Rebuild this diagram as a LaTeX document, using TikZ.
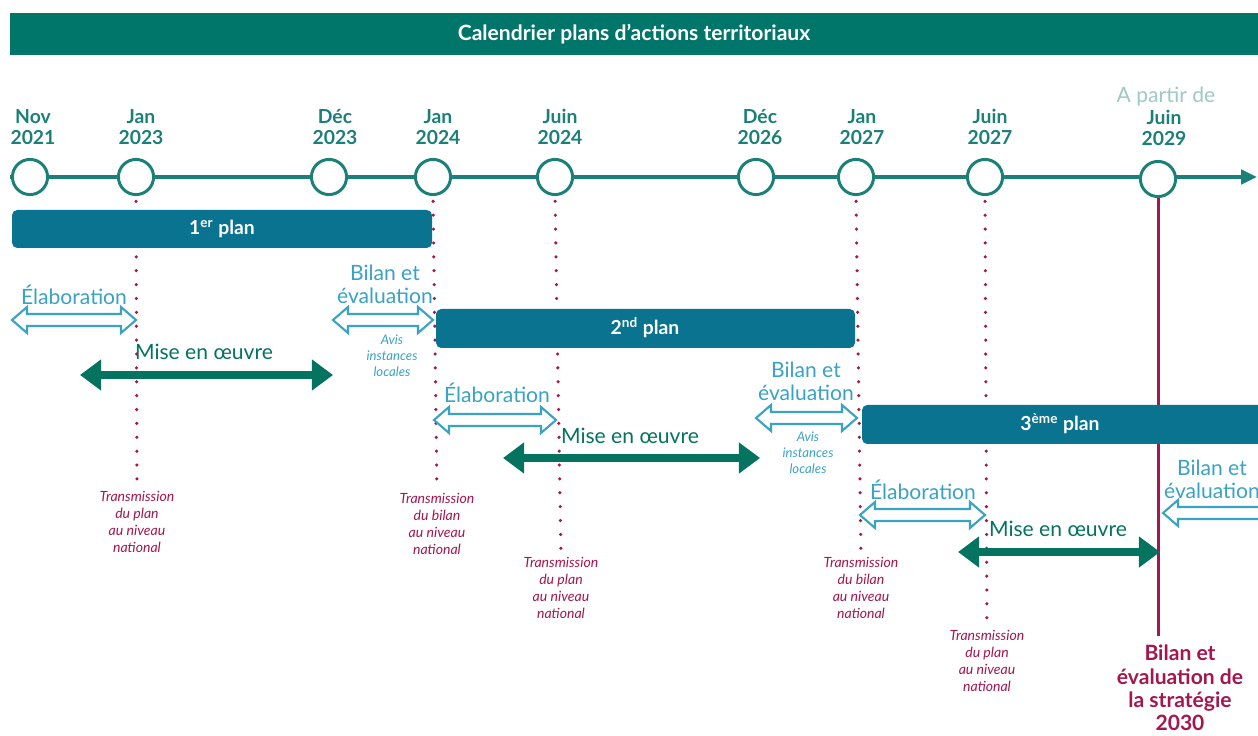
\documentclass[tikz,border=0pt]{standalone}
\usepackage{fontspec}
\setmainfont{Lato}
\usepackage{xcolor}
\usetikzlibrary{arrows.meta, positioning}

\definecolor{hdgreen}{HTML}{00766A}
\definecolor{linegreen}{HTML}{1B8077}
\definecolor{plancol}{HTML}{0A7390}
\definecolor{lightblue}{HTML}{3AA2C2}
\definecolor{darkgreen}{HTML}{04735F}
\definecolor{crimson}{HTML}{A3174E}
\definecolor{paletext}{HTML}{9CC9C4}

% hollow double arrow: x start, x end, y
\newcommand{\hollowarrow}[3]{%
  \draw[hollow] (#1,#3) -- (#1+15,#3-13) -- (#1+15,#3-6) -- (#2-15,#3-6) -- (#2-15,#3-13)
    -- (#2,#3) -- (#2-15,#3+13) -- (#2-15,#3+6) -- (#1+15,#3+6) -- (#1+15,#3+13) -- cycle;}

\begin{document}
\begin{tikzpicture}[x=0.02cm, y=-0.02cm,
    date/.style={circle, draw=linegreen, line width=1.7pt, fill=white, minimum size=20pt, inner sep=0pt},
    datelbl/.style={align=center, font=\bfseries\fontsize{11}{12}\selectfont, text=linegreen, inner sep=0pt},
    planbar/.style={fill=plancol, rounded corners=3pt},
    plantxt/.style={text=white, font=\bfseries\fontsize{11}{13}\selectfont},
    phase/.style={text=lightblue, align=center, font=\fontsize{12}{13}\selectfont, inner sep=0pt},
    mise/.style={text=darkgreen, font=\fontsize{12}{13}\selectfont, inner sep=0pt},
    avis/.style={text=lightblue, align=center, font=\itshape\fontsize{7.5}{9}\selectfont, inner sep=0pt},
    transm/.style={text=crimson, align=center, font=\itshape\fontsize{8}{9.6}\selectfont, inner sep=0pt},
    dotline/.style={crimson, line width=2pt, line cap=round, dash pattern=on 0pt off 7.9pt},
    hollow/.style={draw=lightblue, line width=1.2pt, fill=white, line join=miter},
    solidarr/.style={darkgreen, line width=5pt, {Triangle[length=12pt,width=17pt]}-{Triangle[length=12pt,width=17pt]}},
  ]
  \useasboundingbox (0,0) rectangle (1258,736);

  % header
  \fill[hdgreen] (10,13) rectangle (1258,55);
  \node[text=white, font=\bfseries\fontsize{12}{14}\selectfont] (title) at (634,34) {Calendrier plans d’actions territoriaux};

  % time line
  \coordinate (tlstart) at (10,177);
  \coordinate (tlend) at (1257,177);
  \draw[linegreen, line width=2.3pt, -{Triangle[length=9pt,width=8pt]}] (tlstart) -- (tlend);

  \node[date] (nov21) at (30,177) {};
  \node[date] (jan23) at (136,177) {};
  \node[date] (dec23) at (329,177) {};
  \node[date] (jan24) at (433,177) {};
  \node[date] (jun24) at (555,177) {};
  \node[date] (dec26) at (756,177) {};
  \node[date] (jan27) at (856,177) {};
  \node[date] (jun27) at (985,177) {};
  \node[date] (jun29) at (1158,179) {};

  \node[datelbl] (nov21l) at (33,127) {Nov\\2021};
  \node[datelbl] (jan23l) at (141,127) {Jan\\2023};
  \node[datelbl] (dec23l) at (335,127) {Déc\\2023};
  \node[datelbl] (jan24l) at (438,127) {Jan\\2024};
  \node[datelbl] (jun24l) at (560,127) {Juin\\2024};
  \node[datelbl] (dec26l) at (760,127) {Déc\\2026};
  \node[datelbl] (jan27l) at (862,127) {Jan\\2027};
  \node[datelbl] (jun27l) at (990,127) {Juin\\2027};
  \node[datelbl] (jun29l) at (1164,128) {Juin\\2029};
  \node[text=paletext, font=\fontsize{12}{13}\selectfont, inner sep=0pt] (apartir) at (1166,97) {A partir de};

  % transmissions
  \node[transm] (tr1) at (137,522) {Transmission\\du plan\\au niveau\\national};
  \node[transm] (tr2) at (437,524) {Transmission\\du bilan\\au niveau\\national};
  \node[transm] (tr3) at (561,588) {Transmission\\du plan\\au niveau\\national};
  \node[transm] (tr4) at (861,588) {Transmission\\du bilan\\au niveau\\national};
  \node[transm] (tr5) at (987,661) {Transmission\\du plan\\au niveau\\national};
  \node[text=crimson, align=center, font=\bfseries\fontsize{12}{13.2}\selectfont, inner sep=0pt] (final) at (1180,688) {Bilan et\\évaluation de\\la stratégie\\2030};

  \draw[dotline, shorten <=3pt, shorten >=4pt] (jan23.south) -- (tr1.north);
  \draw[dotline, shorten <=3pt, shorten >=4pt] (jan24.south) -- (tr2.north);
  \draw[dotline, shorten <=3pt, shorten >=4pt] (jun24.south) -- (tr3.north);
  \draw[dotline, shorten <=3pt, shorten >=4pt] (jan27.south) -- (tr4.north);
  \draw[dotline, shorten <=3pt, shorten >=4pt] (jun27.south) -- (tr5.north);
  \draw[crimson, line width=1.7pt, shorten >=5pt] (jun29.south) -- (jun29.south |- final.north);

  % plans
  \fill[planbar] (12,210) rectangle (432,248);
  \node[plantxt] (plan1) at (222,229) {1\textsuperscript{er} plan};
  \fill[planbar] (436,309) rectangle (855,348);
  \node[plantxt] (plan2) at (645,328) {2\textsuperscript{nd} plan};
  \fill[planbar] (862,405) rectangle (1270,444);
  \node[plantxt] (plan3) at (1060,424) {3\textsuperscript{ème} plan};

  % phases
  \hollowarrow{12}{136}{320}
  \hollowarrow{333}{433}{320}
  \hollowarrow{434}{556}{420}
  \hollowarrow{756}{857}{418}
  \hollowarrow{860}{985}{515}
  \draw[hollow] (1262,507) -- (1178,507) -- (1178,500) -- (1163,513) -- (1178,526) -- (1178,519) -- (1262,519);

  \node[phase] (elab1) at (74,295) {Élaboration};
  \node[phase] (bilan1) at (385,284) {Bilan et\\évaluation};
  \node[avis] (avis1) at (392,356) {Avis\\instances\\locales};
  \node[phase] (elab2) at (497,393) {Élaboration};
  \node[phase] (bilan2) at (806,381) {Bilan et\\évaluation};
  \node[avis] (avis2) at (808,453) {Avis\\instances\\locales};
  \node[phase] (elab3) at (923,490) {Élaboration};
  \node[phase] (bilan3) at (1212,479) {Bilan et\\évaluation};

  \coordinate (m1a) at (80,375);
  \coordinate (m1b) at (333,375);
  \coordinate (m2a) at (503,458);
  \coordinate (m2b) at (760,458);
  \coordinate (m3a) at (958,552);
  \coordinate (m3b) at (1160,552);
  \draw[solidarr] (m1a) -- (m1b);
  \draw[solidarr] (m2a) -- (m2b);
  \draw[solidarr] (m3a) -- (m3b);
  \node[mise] (mise1) at (204,352) {Mise en œuvre};
  \node[mise] (mise2) at (630,436) {Mise en œuvre};
  \node[mise] (mise3) at (1058,529) {Mise en œuvre};
\end{tikzpicture}
\end{document}
